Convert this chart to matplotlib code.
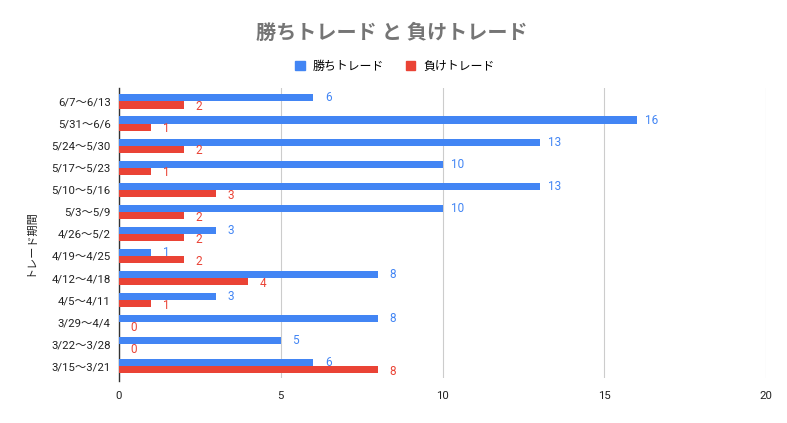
import matplotlib
matplotlib.use("Agg")
import matplotlib.pyplot as plt
from matplotlib.patches import Patch

plt.rcParams['font.family'] = ['Roboto', 'Noto Sans CJK JP', 'DejaVu Sans']

categories = ["6/7〜6/13", "5/31〜6/6", "5/24〜5/30", "5/17〜5/23", "5/10〜5/16",
              "5/3〜5/9", "4/26〜5/2", "4/19〜4/25", "4/12〜4/18", "4/5〜4/11",
              "3/29〜4/4", "3/22〜3/28", "3/15〜3/21"]
wins = [6, 16, 13, 10, 13, 10, 3, 1, 8, 3, 8, 5, 6]
losses = [2, 1, 2, 1, 3, 2, 2, 2, 4, 1, 0, 0, 8]
series_names = ["勝ちトレード", "負けトレード"]
title = "勝ちトレード と 負けトレード"
y_title = "トレード期間"
x_ticks = [0, 5, 10, 15, 20]

blue = "#4285f4"
red = "#ea4335"

fig = plt.figure(figsize=(7.87, 4.23), dpi=100)
ax = fig.add_axes([119/787, 1-378/423, (766-119)/787, (378-88)/423])

pos = list(range(len(categories)))
h = 0.32
ax.barh([p - h/2 for p in pos], wins, height=h, color=blue, zorder=3)
ax.barh([p + h/2 for p in pos], losses, height=h, color=red, zorder=3)

px = 20/647.0  # data units per pixel
for p, w, l in zip(pos, wins, losses):
    ax.text(w + 15*px, p - h/2, str(w), color=blue, fontsize=8.5,
            va='center', ha='center', zorder=4)
    ax.text(l + 15*px, p + h/2 + 0.08, str(l), color=red, fontsize=8.5,
            va='center', ha='center', zorder=4)

ax.set_ylim(12.53, -0.61)
ax.set_xlim(0, 20)
ax.set_yticks(pos)
ax.set_yticklabels(categories, fontsize=8.2, color='#222222')
ax.set_xticks(x_ticks)
ax.set_xticklabels([str(t) for t in x_ticks], fontsize=8.2, color='#222222')
ax.tick_params(length=0, pad=6)
ax.tick_params(axis='x', pad=9)
ax.grid(axis='x', color='#cccccc', linewidth=0.8, zorder=0)
for s in ['top', 'right', 'bottom']:
    ax.spines[s].set_visible(False)
ax.spines['left'].set_color('#333333')
ax.spines['left'].set_linewidth(1)
ax.spines['left'].set_bounds(12.65, -0.61)

fig.text(30/787, 1-243/423, y_title, rotation=90, ha='center', va='center',
         fontsize=8, color='#222222')

fig.text(392/787, 1-33/423, title, ha='center', va='center', fontsize=14.5,
         color='#757575', fontweight='bold')

handles = [Patch(color=blue), Patch(color=red)]
fig.legend(handles, series_names, loc='center', bbox_to_anchor=(395/787, 1-66/423),
           ncol=2, frameon=False, fontsize=8.6, handlelength=0.8, handleheight=0.8,
           columnspacing=1.8, handletextpad=0.7)

fig.savefig("out.png", dpi=100)
